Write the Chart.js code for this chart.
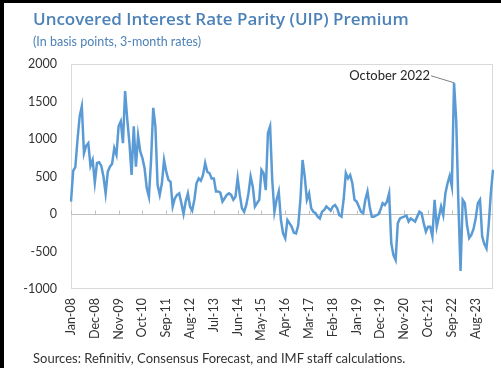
<!DOCTYPE html>
<html>
<head>
<meta charset="utf-8">
<script src="https://cdn.jsdelivr.net/npm/chart.js@4.4.0/dist/chart.umd.min.js"></script>
<style>
    html, body { margin: 0; padding: 0; background: #fff; }
    body { width: 501px; height: 368px; position: relative; overflow: hidden; }
    #uip-chart { position: absolute; left: 0; top: 0; }
    .frame { position: absolute; left: 0; top: 0; width: 501px; height: 368px; box-sizing: border-box;
             border-left: 4px solid #000; border-top: 3px solid #000; pointer-events: none; }
    .title { position: absolute; left: 33px; top: 7px; font: 600 17px "Open Sans", sans-serif; color: #4d82b8; white-space: nowrap; }
    .subtitle { position: absolute; left: 33px; top: 34px; font: 12.5px Lato, sans-serif; color: #4d82b8; white-space: nowrap; }
    .source { position: absolute; left: 33px; top: 350px; font: 13px Lato, sans-serif; color: #333; white-space: nowrap; }
</style>
</head>
<body>
<canvas id="uip-chart" width="501" height="368"></canvas>
<div class="title">Uncovered Interest Rate Parity (UIP) Premium</div>
<div class="subtitle">(In basis points, 3-month rates)</div>
<div class="source">Sources: Refinitiv, Consensus Forecast, and IMF staff calculations.</div>
<div class="frame"></div>

<script>
// Monthly UIP premium, Jan-08 .. Apr-24 (basis points)
const monthNames = ['Jan', 'Feb', 'Mar', 'Apr', 'May', 'Jun', 'Jul', 'Aug', 'Sep', 'Oct', 'Nov', 'Dec'];
const startYear = 2008;
const monthCount = 196;

const tickLabels = ['Jan-08', 'Dec-08', 'Nov-09', 'Oct-10', 'Sep-11', 'Aug-12', 'Jul-13', 'Jun-14', 'May-15',
    'Apr-16', 'Mar-17', 'Feb-18', 'Jan-19', 'Dec-19', 'Nov-20', 'Oct-21', 'Sep-22', 'Aug-23'];

const premium = [
    165, 575, 625, 990, 1300, 1435, 810, 910, 945, 640, 720, 420,        // 2008
    680, 690, 640, 500, 275, 565, 630, 670, 880, 790, 1170, 1235,        // 2009
    945, 1640, 1260, 945, 520, 1170, 630, 1045, 835, 745, 610, 345,      // 2010
    230, 720, 1415, 1170, 390, 255, 410, 720, 565, 455, 430, 100,        // 2011
    210, 255, 275, 145, 0, 165, 275, 100, 45, 190, 410, 475,             // 2012
    445, 520, 680, 560, 545, 475, 475, 300, 300, 285, 165, 210,          // 2013
    255, 275, 255, 190, 230, 480, 255, 75, 30, 120, 275, 500,            // 2014
    365, 100, 145, 190, 590, 545, 320, 1080, 1170, 450, 30, 190,         // 2015
    300, -80, -260, -325, -80, -125, -170, -250, -260, -150, 190, 720,   // 2016
    500, 190, 275, 75, 30, 10, -35, -60, 30, 55, 100, 75,                // 2017
    45, 100, 120, 75, -15, -35, 200, 545, 475, 520, 410, 190,            // 2018
    165, 100, 30, 10, 190, 300, 100, -35, -35, -20, -5, 55,              // 2019
    145, 120, 165, 275, -390, -550, -615, -125, -60, -45, -35, -20,      // 2020
    -100, -60, -80, -100, -35, 30, 10, -125, -235, -170, -170, -300,     // 2021
    190, -170, -35, 100, -15, 275, 410, 510, 365, 1750, 1250, 150,       // 2022
    -760, 190, 145, -150, -320, -280, -200, -60, 145, 190, -300, -400,   // 2023
    -460, -150, 275, 590                                                 // 2024
];

const peakLabel = 'Oct-22';
const peakText = 'October 2022';

const months = [];
for (let i = 0; i < monthCount; i++) {
    const yy = String((startYear + Math.floor(i / 12)) % 100).padStart(2, '0');
    months.push(monthNames[i % 12] + '-' + yy);
}

// plot frame, zero line with its tick marks, and the peak callout
const uipDecor = {
    id: 'uipDecor',
    beforeDatasetsDraw(chart) {
        const { ctx, chartArea: a, scales: { x, y } } = chart;
        ctx.save();
        ctx.lineWidth = 1;
        ctx.strokeStyle = '#d9d9d9';
        ctx.strokeRect(a.left + 0.5, a.top + 0.5, a.width - 1, a.height - 1);

        const y0 = Math.round(y.getPixelForValue(0)) + 0.5;
        ctx.strokeStyle = '#c0c0c0';
        ctx.beginPath();
        ctx.moveTo(a.left, y0);
        ctx.lineTo(a.right, y0);
        months.forEach((m, i) => {
            if (!tickLabels.includes(m)) return;
            const px = Math.round(x.getPixelForValue(i)) + 0.5;
            ctx.moveTo(px, y0 - 4);
            ctx.lineTo(px, y0);
        });
        ctx.stroke();
        ctx.restore();
    },
    afterDatasetsDraw(chart) {
        const { ctx, scales: { x, y } } = chart;
        const i = months.indexOf(peakLabel);
        const px = x.getPixelForValue(i);
        const py = y.getPixelForValue(premium[i]);
        ctx.save();
        ctx.strokeStyle = '#7f7f7f';
        ctx.lineWidth = 1;
        ctx.beginPath();
        ctx.moveTo(px, py);
        ctx.lineTo(px - 23, py - 7);
        ctx.stroke();
        ctx.fillStyle = '#262626';
        ctx.font = '13px Lato, sans-serif';
        ctx.textAlign = 'right';
        ctx.textBaseline = 'middle';
        ctx.fillText(peakText, px - 24, py - 7);
        ctx.restore();
    }
};

new Chart(document.getElementById('uip-chart'), {
    type: 'line',
    data: {
        labels: months,
        datasets: [{
            data: premium,
            borderColor: '#5b9bd5',
            borderWidth: 2.5,
            pointRadius: 0,
            tension: 0,
            fill: false
        }]
    },
    options: {
        responsive: false,
        animation: false,
        devicePixelRatio: 1,
        layout: { padding: { top: 64, right: 8, bottom: 0, left: 0 } },
        plugins: {
            legend: { display: false },
            tooltip: { enabled: false }
        },
        scales: {
            x: {
                type: 'category',
                offset: false,
                grid: { display: false, drawTicks: false },
                border: { display: false },
                afterFit: (scale) => {
                    scale.height = 79;
                    scale.paddingLeft = 0;
                    scale.paddingRight = 0;
                },
                ticks: {
                    autoSkip: false,
                    minRotation: 90,
                    maxRotation: 90,
                    padding: 9,
                    color: '#333',
                    font: { family: 'Lato', size: 12.5 },
                    callback: function (value) {
                        const lab = this.getLabelForValue(value);
                        return tickLabels.includes(lab) ? lab : '';
                    }
                }
            },
            y: {
                min: -1000,
                max: 2000,
                grid: { display: false, drawTicks: false },
                border: { display: false },
                afterFit: (scale) => { scale.width = 71; },
                ticks: {
                    stepSize: 500,
                    padding: 14,
                    color: '#333',
                    font: { family: 'Lato', size: 12.5 },
                    callback: (value) => String(value)
                }
            }
        }
    },
    plugins: [uipDecor]
});
</script>
</body>
</html>
